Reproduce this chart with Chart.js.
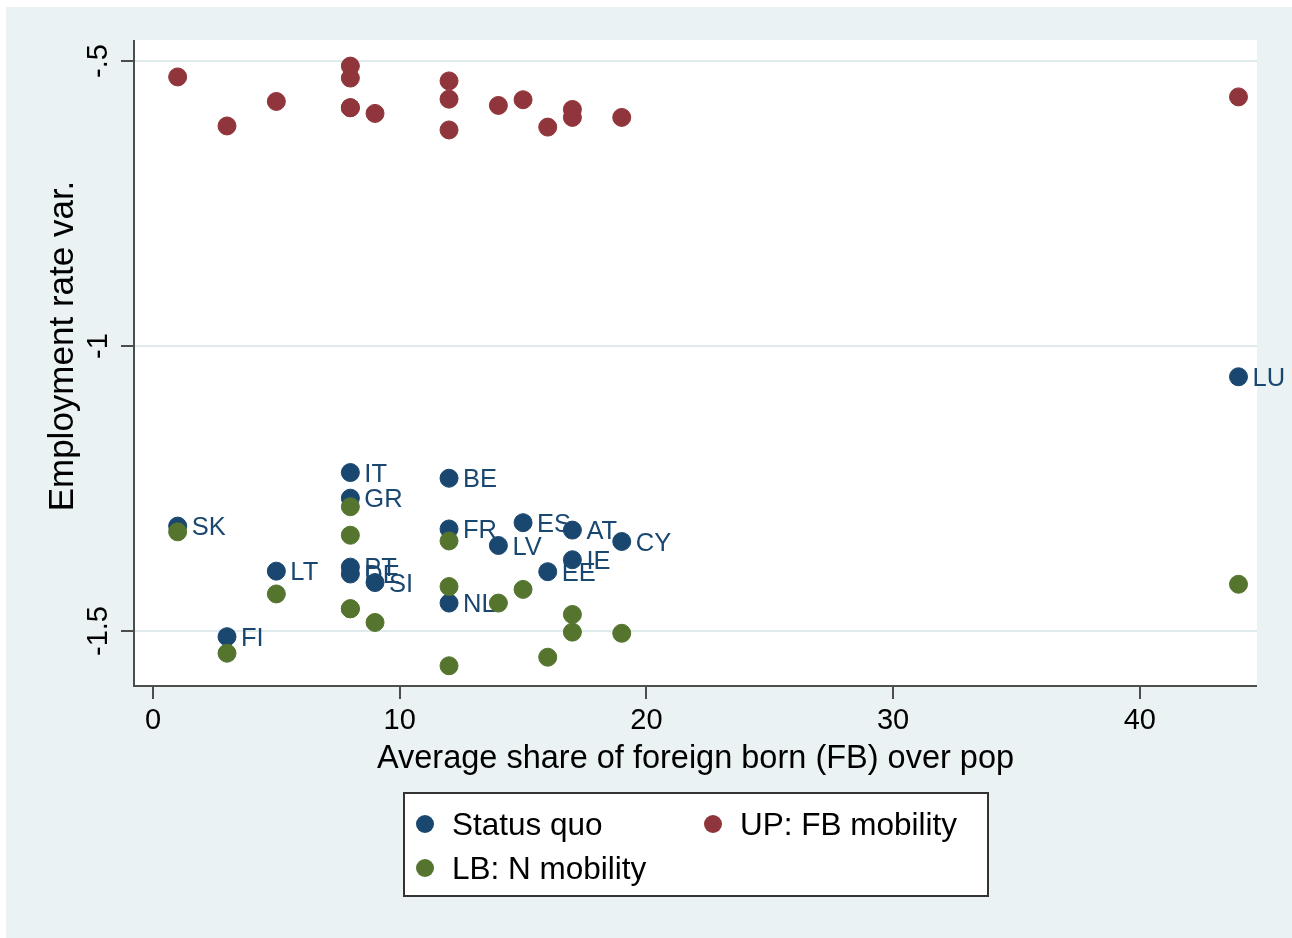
<!DOCTYPE html>
<html>
<head>
<meta charset="utf-8">
<title>Employment rate var. by foreign born share</title>
<script src="https://cdn.jsdelivr.net/npm/chart.js@4.4.1/dist/chart.umd.min.js"></script>
<style>
  html, body { margin: 0; padding: 0; background: #fff; }
  #wrap { width: 1292px; height: 938px; }
</style>
</head>
<body>
<div id="wrap"><canvas id="fb-chart" width="1292" height="938"></canvas></div>
<script>
const countries = ['SK', 'FI', 'LT', 'IT', 'GR', 'PT', 'DE', 'SI', 'BE', 'FR', 'NL', 'LV', 'ES', 'EE', 'AT', 'IE', 'CY', 'LU'];
const fbShare = [1, 3, 5, 8, 8, 8, 8, 9, 12, 12, 12, 14, 15, 16, 17, 17, 19, 44];
const statusQuo = [-1.316, -1.510, -1.395, -1.222, -1.267, -1.388, -1.400, -1.415, -1.232, -1.321, -1.451, -1.350, -1.310, -1.396, -1.323, -1.375, -1.343, -1.054];
const upFbMobility = [-0.528, -0.614, -0.571, -0.530, -0.509, -0.582, -0.582, -0.592, -0.535, -0.567, -0.621, -0.578, -0.568, -0.616, -0.585, -0.599, -0.599, -0.563];
const lbNMobility = [-1.326, -1.539, -1.435, -1.332, -1.282, -1.461, -1.461, -1.485, -1.342, -1.422, -1.561, -1.451, -1.427, -1.546, -1.471, -1.502, -1.504, -1.418];

const xTicks = [0, 10, 20, 30, 40];
const xTickLabels = ['0', '10', '20', '30', '40'];
const yTicks = [-0.5, -1, -1.5];
const yTickLabels = ['-.5', '-1', '-1.5'];

const NAVY = '#1a476f';
const MAROON = '#90353b';
const FOREST = '#55752f';
const FONT = '"Liberation Sans", Arial, Helvetica, sans-serif';

function toPoints(ys) {
    return fbShare.map((x, i) => ({ x: x, y: ys[i] }));
}

function marker(color, order) {
    return {
        backgroundColor: color,
        borderColor: color,
        borderWidth: 1,
        pointRadius: 9,
        pointHoverRadius: 9,
        order: order
    };
}

// background, plot region and grid, drawn under the markers
const stataFrame = {
    id: 'stataFrame',
    beforeDraw(chart) {
        const { ctx, chartArea: a, scales: { y } } = chart;
        ctx.save();
        ctx.fillStyle = '#ffffff';
        ctx.fillRect(0, 0, chart.width, chart.height);
        ctx.fillStyle = '#eaf2f3';
        ctx.fillRect(6, 7, chart.width - 6, chart.height - 7);
        ctx.fillStyle = '#ffffff';
        ctx.fillRect(a.left, a.top, a.right - a.left, a.bottom - a.top);

        ctx.strokeStyle = '#dfeaed';
        ctx.lineWidth = 2;
        yTicks.forEach(v => {
            const py = Math.round(y.getPixelForValue(v));
            ctx.beginPath();
            ctx.moveTo(a.left, py);
            ctx.lineTo(a.right, py);
            ctx.stroke();
        });
        ctx.restore();
    },
    // country labels sit with the status quo markers, under the later series
    afterDatasetDraw(chart, args) {
        if (args.index !== 0) return;
        const { ctx, scales: { x, y } } = chart;
        ctx.save();
        ctx.fillStyle = NAVY;
        ctx.font = '25.5px ' + FONT;
        ctx.textAlign = 'left';
        ctx.textBaseline = 'middle';
        countries.forEach((c, i) => {
            const px = x.getPixelForValue(fbShare[i]);
            const py = y.getPixelForValue(statusQuo[i]);
            ctx.fillText(c, px + 14, py + 2);
        });
        ctx.restore();
    },
    afterDraw(chart) {
        const { ctx, chartArea: a, scales: { x, y } } = chart;
        ctx.save();

        // axes and ticks
        ctx.strokeStyle = '#4d4d4d';
        ctx.lineWidth = 2;
        ctx.beginPath();
        ctx.moveTo(a.left, a.top);
        ctx.lineTo(a.left, a.bottom);
        ctx.lineTo(a.right, a.bottom);
        ctx.stroke();

        ctx.beginPath();
        xTicks.forEach(v => {
            const px = Math.round(x.getPixelForValue(v));
            ctx.moveTo(px, a.bottom);
            ctx.lineTo(px, a.bottom + 13);
        });
        yTicks.forEach(v => {
            const py = Math.round(y.getPixelForValue(v));
            ctx.moveTo(a.left, py);
            ctx.lineTo(a.left - 13, py);
        });
        ctx.stroke();

        ctx.fillStyle = '#000';
        ctx.font = '29px ' + FONT;
        ctx.textAlign = 'center';
        ctx.textBaseline = 'alphabetic';
        xTicks.forEach((v, i) => {
            ctx.fillText(xTickLabels[i], x.getPixelForValue(v), a.bottom + 43);
        });
        yTicks.forEach((v, i) => {
            ctx.save();
            ctx.translate(a.left - 27, y.getPixelForValue(v));
            ctx.rotate(-Math.PI / 2);
            ctx.fillText(yTickLabels[i], 0, 0);
            ctx.restore();
        });

        // axis titles
        ctx.font = '32.5px ' + FONT;
        ctx.fillText('Average share of foreign born (FB) over pop', (a.left + a.right) / 2, a.bottom + 82);
        ctx.save();
        ctx.font = '35px ' + FONT;
        ctx.translate(73, 346);
        ctx.rotate(-Math.PI / 2);
        ctx.fillText('Employment rate var.', 0, 0);
        ctx.restore();

        // legend
        ctx.fillStyle = '#ffffff';
        ctx.fillRect(404, 793, 584, 103);
        ctx.strokeStyle = '#333';
        ctx.lineWidth = 2;
        ctx.strokeRect(404, 793, 584, 103);

        const items = [
            { label: 'Status quo', color: NAVY, mx: 425, my: 824 },
            { label: 'UP: FB mobility', color: MAROON, mx: 713, my: 824 },
            { label: 'LB: N mobility', color: FOREST, mx: 425, my: 868 }
        ];
        ctx.font = '31.5px ' + FONT;
        ctx.textAlign = 'left';
        items.forEach(it => {
            ctx.fillStyle = it.color;
            ctx.beginPath();
            ctx.arc(it.mx, it.my, 9, 0, Math.PI * 2);
            ctx.fill();
            ctx.fillStyle = '#000';
            ctx.fillText(it.label, it.mx + 27, it.my + 11);
        });

        ctx.restore();
    }
};

new Chart(document.getElementById('fb-chart').getContext('2d'), {
    type: 'scatter',
    data: {
        datasets: [
            { label: 'Status quo', data: toPoints(statusQuo), ...marker(NAVY, 2) },
            { label: 'UP: FB mobility', data: toPoints(upFbMobility), ...marker(MAROON, 1) },
            { label: 'LB: N mobility', data: toPoints(lbNMobility), ...marker(FOREST, 0) }
        ]
    },
    options: {
        responsive: false,
        animation: false,
        layout: { padding: { left: 134, right: 35, top: 40, bottom: 252 } },
        plugins: {
            legend: { display: false },
            tooltip: { enabled: false }
        },
        scales: {
            x: { type: 'linear', min: -0.77, max: 44.75, display: false },
            y: { type: 'linear', min: -1.5965, max: -0.4632, display: false }
        }
    },
    plugins: [stataFrame]
});
</script>
</body>
</html>
